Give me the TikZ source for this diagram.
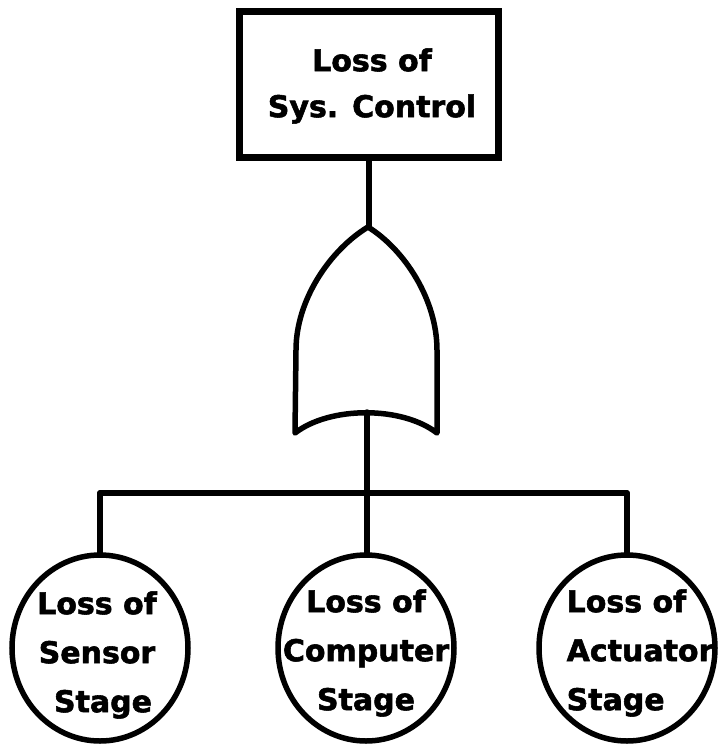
\documentclass[tikz,border=0pt]{standalone}
\usepackage{fontspec}
\setmainfont{DejaVu Sans}[BoldFeatures={FakeBold=1.8}]
\usetikzlibrary{shapes.geometric}
\begin{document}
\begin{tikzpicture}[x=1pt,y=-1pt,
  ln/.style={line width=5.5pt,line cap=round,line join=round},
  topbox/.style={draw,line width=7pt,minimum width=259pt,minimum height=146pt,inner sep=0pt},
  evt/.style={draw,ellipse,line width=5.5pt,minimum width=176pt,minimum height=186pt,inner sep=0pt},
  boxtxt/.style={font=\fontsize{30}{46}\selectfont\bfseries,align=center,inner sep=0pt},
  evttxt/.style={font=\fontsize{30}{49}\selectfont\bfseries,align=center,inner sep=0pt}]
\useasboundingbox (0,0) rectangle (719,745);
\fill[white] (0,0) rectangle (719,745);
% top event
\node[topbox] (top) at (369,84) {};
\node[boxtxt] (toptxt) at (372,86) {Loss of\\Sys. Control};
% OR gate
\coordinate (gtop) at (368,227);
\coordinate (gbot) at (367,412);
\draw[ln] (gtop) .. controls (330,250) and (296,300) .. (296,350) -- (295,433)
  .. controls (330,406) and (402,406) .. (437,433) -- (437,350)
  .. controls (437,300) and (405,250) .. (gtop) -- cycle;
\draw[ln] (top.south) -- (top.south |- gtop);
% basic events
\node[evt] (e1) at (100,648) {};
\node[evt] (e2) at (366,648) {};
\node[evt] (e3) at (627,648) {};
\node[evttxt] (t1) at (97,655) {Loss of\\Sensor\\\hspace*{12pt}Stage};
\node[evttxt] (t2) at (366,653) {Loss of\\Computer\\Stage};
\node[evttxt,align=left] (t3) at (640,653) {Loss of\\Actuator\\Stage};
% connectors
\coordinate (j) at (367,493);
\coordinate (h1) at (100,493);
\coordinate (h3) at (627,493);
\draw[ln] (gbot) -- (j);
\draw[ln] (h1) -- (h3);
\draw[ln] (h1) -- (e1.north);
\draw[ln] (j) -- (j |- e2.north);
\draw[ln] (h3) -- (e3.north);
\end{tikzpicture}
\end{document}
